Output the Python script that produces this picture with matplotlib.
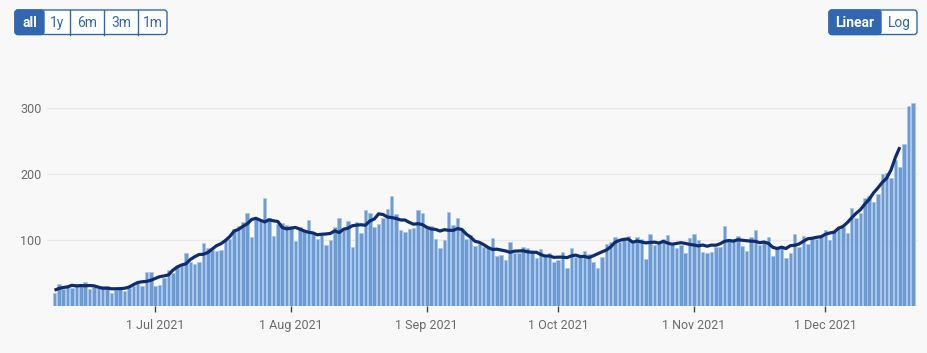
import pandas as pd
import matplotlib
matplotlib.use("Agg")
import matplotlib.pyplot as plt
import matplotlib.dates as mdates
from matplotlib.patches import FancyBboxPatch, Rectangle

# daily values, first bar is 8 Jun 2021
start_date = "2021-06-08"
daily = [
    20, 33, 26, 29, 28, 34, 33, 37, 26, 29, 28, 30, 31, 19, 25, 28, 22, 28, 31, 35,
    31, 51, 51, 30, 32, 43, 54, 50, 59, 61, 80, 67, 64, 66, 96, 88, 85, 83, 85, 101,
    102, 117, 121, 127, 141, 104, 132, 129, 163, 134, 106, 124, 126, 122, 121, 99, 120, 114, 131, 109,
    102, 107, 92, 100, 120, 134, 115, 129, 89, 127, 111, 146, 141, 119, 124, 134, 147, 166, 139, 115,
    112, 116, 118, 146, 141, 119, 121, 102, 88, 100, 142, 123, 133, 115, 101, 107, 91, 94, 90, 89,
    103, 76, 78, 70, 97, 80, 80, 89, 88, 80, 72, 86, 75, 80, 66, 70, 82, 57, 88, 75,
    75, 84, 79, 67, 58, 75, 94, 97, 105, 97, 102, 106, 95, 105, 101, 71, 109, 93, 95, 101,
    107, 92, 88, 92, 80, 103, 109, 100, 82, 81, 82, 90, 90, 121, 98, 99, 106, 91, 83, 105,
    115, 93, 95, 104, 76, 90, 91, 73, 81, 109, 90, 106, 94, 105, 102, 107, 115, 100, 112, 119,
    119, 111, 149, 133, 141, 163, 166, 158, 170, 200, 202, 194, 221, 211, 246, 303, 308,
]

# 7-day average line (ends 3 days before last bar)
average = [
    24.0, 26.5, 28.0, 29.0, 31.4, 30.4, 30.9, 30.7, 31.0, 30.6, 28.6, 26.9, 27.1, 26.1, 26.1, 26.3,
    26.9, 28.6, 32.3, 35.6, 36.7, 37.3, 39.0, 41.7, 44.4, 45.6, 47.0, 54.1, 59.1, 62.1, 63.9, 70.4,
    74.6, 78.0, 78.4, 81.0, 86.3, 91.4, 94.4, 99.1, 105.1, 113.4, 116.1, 120.6, 124.4, 131.0, 132.9, 129.9,
    127.4, 130.6, 129.1, 128.0, 118.9, 116.9, 118.0, 119.0, 116.6, 113.7, 111.7, 110.7, 107.9, 108.7, 109.1, 110.0,
    113.9, 111.3, 116.3, 117.9, 121.6, 122.6, 123.1, 122.4, 128.9, 131.7, 139.6, 138.6, 134.9, 133.9, 132.7, 130.4,
    130.3, 126.7, 123.9, 124.7, 123.3, 119.3, 116.7, 116.1, 113.6, 115.6, 114.7, 114.6, 117.3, 116.0, 109.1, 104.4,
    98.1, 96.4, 92.9, 88.7, 85.7, 86.1, 84.7, 83.4, 81.4, 83.1, 83.4, 83.7, 82.1, 81.4, 81.4, 78.1,
    75.6, 75.9, 73.7, 74.0, 74.0, 73.3, 75.9, 77.1, 75.0, 75.1, 73.3, 76.0, 79.1, 82.1, 84.7, 89.7,
    96.6, 99.4, 101.0, 101.6, 96.7, 98.4, 97.1, 95.6, 96.4, 96.7, 95.4, 97.9, 95.4, 93.6, 94.7, 95.9,
    94.9, 93.4, 92.4, 91.0, 92.4, 90.6, 92.3, 92.0, 94.4, 98.0, 99.3, 98.3, 100.4, 99.6, 98.9, 98.3,
    98.0, 95.9, 96.9, 94.9, 88.9, 87.1, 89.1, 87.1, 91.4, 92.0, 94.0, 98.1, 101.9, 102.7, 104.1, 105.0,
    108.6, 110.6, 111.9, 117.9, 120.4, 126.3, 133.6, 140.3, 145.9, 154.3, 161.6, 171.4, 179.0, 187.3, 193.7, 206.3,
    225.3, 240.7,
]

y_ticks = [100, 200, 300]
range_buttons = ["all", "1y", "6m", "3m", "1m"]
scale_buttons = ["Linear", "Log"]

BG = "#f8f8f8"
BAR = "#6b9bd2"
BAR_EDGE = "#a9c5e7"
LINE = "#0f2d6e"
BTN = "#3167b1"
TXT = "#6b6b6b"

plt.rcParams["font.family"] = ["Roboto", "DejaVu Sans"]

W, H = 928, 353
fig = plt.figure(figsize=(W / 100, H / 100), dpi=100, facecolor=BG)

dates = pd.date_range(start_date, periods=len(daily), freq="D")
ax = fig.add_axes([47 / W, 47 / H, (918 - 47) / W, 211.2 / H])
ax.set_facecolor(BG)

ax.bar(dates, daily, width=0.8, color=BAR, edgecolor=BAR_EDGE, linewidth=0.5, zorder=2)
ax.plot(dates[:len(average)], average, color=LINE, lw=2.3, solid_capstyle="butt",
        solid_joinstyle="round", zorder=3)

first = dates[0]
ax.set_xlim(first - pd.Timedelta(days=1.71), first + pd.Timedelta(days=197.15))
ax.set_ylim(0, 320)

ax.set_yticks(y_ticks)
ax.grid(axis="y", color="#e9e9e9", lw=1, zorder=0)
ax.tick_params(axis="y", length=0, pad=4, labelsize=9, labelcolor=TXT)

ax.xaxis.set_major_locator(mdates.MonthLocator(bymonthday=1))
ax.xaxis.set_major_formatter(plt.FuncFormatter(
    lambda v, p: f"{mdates.num2date(v).day} {mdates.num2date(v):%b %Y}"))
ax.tick_params(axis="x", length=4.5, width=1, color="#444444", pad=5,
               labelsize=9, labelcolor=TXT)
for s in ax.spines.values():
    s.set_visible(False)

# button bar overlay in pixel coordinates
ov = fig.add_axes([0, 0, 1, 1], zorder=5)
ov.set_xlim(0, W)
ov.set_ylim(H, 0)
ov.axis("off")
ov.patch.set_alpha(0)


def button_group(edges, labels, top=10, bottom=34.5):
    x0, x1 = edges[0], edges[-1]
    ov.add_patch(FancyBboxPatch((x0, top), x1 - x0, bottom - top,
                                boxstyle="round,pad=0,rounding_size=3",
                                fc="white", ec=BTN, lw=1.0))
    ov.add_patch(FancyBboxPatch((edges[0], top), edges[1] - edges[0], bottom - top,
                                boxstyle="round,pad=0,rounding_size=3",
                                fc=BTN, ec=BTN, lw=1.0))
    ov.add_patch(Rectangle((edges[1] - 4, top), 4, bottom - top, fc=BTN, ec="none"))
    for e in edges[2:-1]:
        ov.plot([e, e], [top, bottom], color=BTN, lw=1.0)
    for i, lab in enumerate(labels):
        cx = (edges[i] + edges[i + 1]) / 2
        sel = i == 0
        ov.text(cx, (top + bottom) / 2 + 0.5, lab, ha="center", va="center",
                fontsize=10, color="white" if sel else BTN,
                fontweight="bold" if sel else "normal")


button_group([15, 44, 70, 104.5, 138, 167], range_buttons)
button_group([829, 881, 917], scale_buttons)

fig.savefig("out.png", dpi=100, facecolor=BG)
